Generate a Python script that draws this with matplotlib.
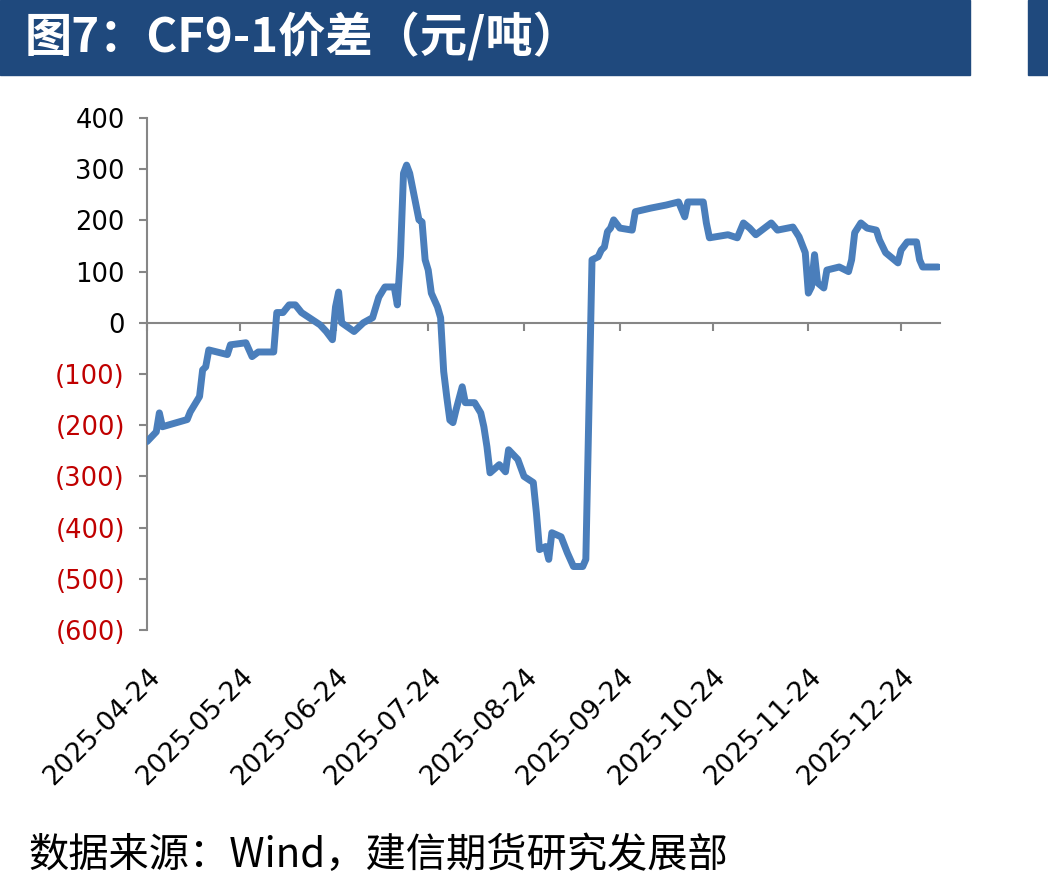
import matplotlib
matplotlib.use('Agg')
import matplotlib.pyplot as plt
import matplotlib.ticker as mticker
from matplotlib.patches import Rectangle
import pandas as pd

# ---- data ----
dates = [
    "2025-04-24", "2025-04-27", "2025-04-28", "2025-04-29", "2025-05-07", "2025-05-08",
    "2025-05-11", "2025-05-12", "2025-05-13", "2025-05-14", "2025-05-20", "2025-05-21",
    "2025-05-26", "2025-05-28", "2025-05-30", "2025-06-04", "2025-06-05", "2025-06-07",
    "2025-06-09", "2025-06-11", "2025-06-13", "2025-06-19", "2025-06-21", "2025-06-23",
    "2025-06-24", "2025-06-25", "2025-06-26", "2025-06-30", "2025-07-03", "2025-07-06",
    "2025-07-08", "2025-07-10", "2025-07-13", "2025-07-14", "2025-07-15", "2025-07-16",
    "2025-07-17", "2025-07-18", "2025-07-21", "2025-07-22", "2025-07-23", "2025-07-24",
    "2025-07-25", "2025-07-27", "2025-07-28", "2025-07-29", "2025-07-30", "2025-07-31",
    "2025-08-01", "2025-08-02", "2025-08-04", "2025-08-05", "2025-08-08", "2025-08-10",
    "2025-08-11", "2025-08-12", "2025-08-13", "2025-08-16", "2025-08-18", "2025-08-19",
    "2025-08-22", "2025-08-24", "2025-08-27", "2025-08-28", "2025-08-29", "2025-08-31",
    "2025-09-01", "2025-09-02", "2025-09-05", "2025-09-07", "2025-09-09", "2025-09-12",
    "2025-09-13", "2025-09-15", "2025-09-17", "2025-09-18", "2025-09-19", "2025-09-20",
    "2025-09-21", "2025-09-22", "2025-09-24", "2025-09-28", "2025-09-29", "2025-10-04",
    "2025-10-09", "2025-10-13", "2025-10-15", "2025-10-16", "2025-10-21", "2025-10-22",
    "2025-10-23", "2025-10-29", "2025-11-01", "2025-11-03", "2025-11-05", "2025-11-07",
    "2025-11-12", "2025-11-14", "2025-11-19", "2025-11-21", "2025-11-23", "2025-11-24",
    "2025-11-25", "2025-11-26", "2025-11-27", "2025-11-29", "2025-11-30", "2025-12-04",
    "2025-12-07", "2025-12-08", "2025-12-09", "2025-12-11", "2025-12-13", "2025-12-16",
    "2025-12-17", "2025-12-19", "2025-12-23", "2025-12-24", "2025-12-26", "2025-12-29",
    "2025-12-30", "2025-12-31", "2026-01-05",
]
spread = [
    -232, -213, -176, -203, -189, -174,
    -144, -92, -86, -53, -62, -43,
    -39, -66, -57, -57, 20, 20,
    35, 35, 20, -4, -17, -33,
    31, 60, 0, -17, 0, 10,
    50, 70, 70, 35, 129, 292,
    308, 292, 201, 197, 123, 103,
    58, 31, 10, -95, -145, -190,
    -195, -170, -125, -156, -156, -176,
    -203, -242, -293, -277, -291, -248,
    -267, -300, -312, -371, -443, -437,
    -462, -410, -418, -449, -476, -476,
    -462, 123, 129, 142, 148, 178,
    185, 201, 185, 181, 217, 224,
    230, 236, 207, 236, 236, 195,
    166, 172, 166, 195, 185, 172,
    195, 181, 187, 168, 137, 58,
    70, 133, 78, 68, 103, 109,
    100, 123, 176, 195, 185, 181,
    162, 137, 117, 142, 158, 158,
    123, 109, 109,
]
x_tick_dates = ["2025-04-24", "2025-05-24", "2025-06-24", "2025-07-24", "2025-08-24",
                "2025-09-24", "2025-10-24", "2025-11-24", "2025-12-24"]
y_ticks = [-600, -500, -400, -300, -200, -100, 0, 100, 200, 300, 400]
title = "图7：CF9-1价差（元/吨）"
source = "数据来源：Wind，建信期货研究发展部"

# ---- figure ----
W, H = 1048, 888
fig = plt.figure(figsize=(W / 100, H / 100), dpi=100)
fig.patch.set_facecolor('white')

bar_color = '#1F497D'
fig.patches.append(Rectangle((0, 1 - 75 / H), 970 / W, 75 / H,
                             transform=fig.transFigure, color=bar_color, zorder=0))
fig.patches.append(Rectangle((1028 / W, 1 - 75 / H), 20 / W, 75 / H,
                             transform=fig.transFigure, color=bar_color, zorder=0))
fig.text(25 / W, 1 - 38 / H, title, color='white', fontsize=34, fontweight='bold',
         family=['Noto Sans CJK SC', 'DejaVu Sans'], ha='left', va='center')
fig.text(28 / W, 1 - 855 / H, source, color='black', fontsize=29,
         family=['Noto Sans CJK SC', 'DejaVu Sans'], ha='left', va='center')

ax = fig.add_axes([147 / W, 1 - 630 / H, (940 - 147) / W, (630 - 118) / H])
x = pd.to_datetime(dates)
ax.plot(x, spread, color='#4A7EBB', lw=5, solid_joinstyle='round',
        solid_capstyle='round', zorder=3)

ax.set_ylim(-600, 400)
ax.set_xlim(pd.Timestamp(dates[0]), pd.Timestamp(dates[-1]) + pd.Timedelta(days=0.6))
ax.set_yticks(y_ticks)

def yfmt(v, pos):
    v = int(round(v))
    return f"({-v})" if v < 0 else f"{v}"

ax.yaxis.set_major_formatter(mticker.FuncFormatter(yfmt))
axis_gray = '#868686'
for s in ['top', 'right']:
    ax.spines[s].set_visible(False)
ax.spines['left'].set_color(axis_gray)
ax.spines['left'].set_linewidth(1.5)
ax.spines['bottom'].set_position(('data', 0))
ax.spines['bottom'].set_color(axis_gray)
ax.spines['bottom'].set_linewidth(1.5)
ax.tick_params(axis='y', direction='out', length=6, width=1.5, color=axis_gray,
               labelsize=18.5, pad=10)
xt = pd.to_datetime(x_tick_dates)
ax.set_xticks(xt)
ax.tick_params(axis='x', direction='out', length=6, width=1.5, color=axis_gray,
               labelbottom=False)
for lab, v in zip(ax.get_yticklabels(), y_ticks):
    lab.set_color('#C00000' if v < 0 else 'black')

sec = ax.secondary_xaxis('bottom')
sec.spines['bottom'].set_visible(False)
sec.set_xticks(xt, [d for d in x_tick_dates], rotation=45, ha='right',
               rotation_mode='anchor', fontsize=19)
sec.tick_params(axis='x', length=0, pad=24)

fig.savefig('out.png', dpi=100, facecolor='white')
